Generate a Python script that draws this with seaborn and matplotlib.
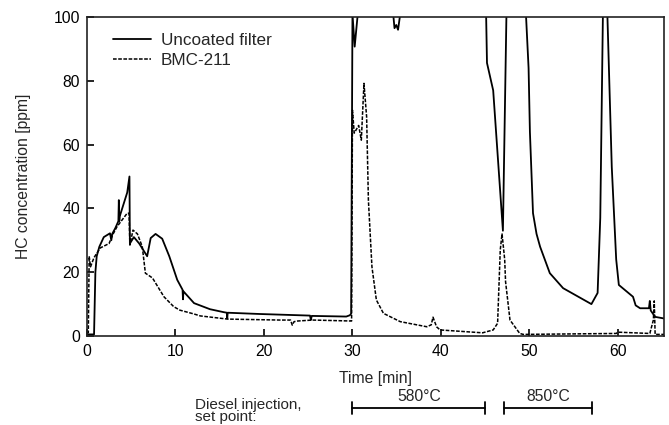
import matplotlib
matplotlib.use("Agg")
import matplotlib.pyplot as plt
import seaborn as sns
import pandas as pd

# ---- data ----
uncoated_t = [0, 0.8, 0.95, 1.1, 1.4, 1.9, 2.6, 2.75, 2.85, 3.2, 3.55, 3.6, 3.65, 3.7,
              4.55, 4.8, 4.85, 5.3, 5.9, 6.8, 7.2, 7.75, 8.5, 9.3, 10.2, 10.8, 10.85,
              10.9, 12.1, 13.9, 15.4, 15.8, 15.85, 15.9, 19.5, 25.2, 25.3, 25.4, 29.3,
              29.7, 29.85, 30.0, 30.25, 30.6, 34.6, 34.75, 34.95, 35.15, 35.4, 45.1,
              45.2, 45.9, 46.5, 47.0, 47.4, 49.6, 49.9, 50.05, 50.4, 50.8, 51.2, 52.3,
              53.8, 57.0, 57.7, 58.0, 58.3, 58.8, 59.3, 59.8, 60.1, 61.7, 62.0, 62.5,
              63.5, 63.6, 63.7, 64.2, 65.2]
uncoated_c = [0.5, 0.5, 20, 25, 28, 31, 32.2, 30, 32, 33.8, 36, 42.6, 36, 37.5,
              45, 50, 29, 31, 29, 25, 30.7, 32, 30.5, 25, 17.6, 14.5, 11.5,
              14, 10.3, 8.4, 7.5, 7.3, 5.5, 7.3, 6.9, 6.4, 5.0, 6.3, 6.1,
              6.5, 7, 101, 90.7, 101, 101, 96.5, 97.5, 96, 101, 101,
              85.6, 77, 53, 33, 101, 101, 84, 64, 38.5, 32, 28, 19.7,
              15, 10, 13.5, 37, 101, 101, 53, 24, 16, 12.3, 9.6, 8.7,
              8.7, 11, 8, 6, 5.5]

bmc_t = [0, 0.15, 0.25, 0.4, 0.8, 1.5, 2.5, 2.9, 3.4, 4.55, 4.75, 4.85, 5.2, 5.7,
         6.25, 6.6, 7.4, 8.7, 9.8, 10.5, 12.1, 12.8, 15.9, 21.8, 23.0, 23.2, 23.4,
         23.8, 25.5, 29.9, 30.0, 30.2, 30.7, 31.0, 31.3, 31.6, 31.8, 32.2, 32.7,
         33.5, 35.4, 38.4, 38.9, 39.1, 39.5, 39.9, 44.7, 45.9, 46.4, 46.7, 46.9,
         47.2, 47.3, 47.8, 48.9, 49.3, 59.8, 60.0, 63.6, 64.0, 64.1, 64.2, 65.2]
bmc_c = [1, 1, 25, 21.7, 24.6, 27.6, 29, 31.7, 34.3, 38.5, 38.5, 28.5, 33.2, 32,
         28, 19.7, 18.2, 12.3, 9.2, 8.1, 6.9, 6.3, 5.3, 5.0, 5.0, 3.4, 4.5,
         4.7, 5.0, 4.7, 70.8, 63.6, 66, 61.4, 79.2, 68.7, 42.6, 21.7, 11.3,
         7.1, 4.5, 2.9, 3.5, 5.9, 2.9, 1.9, 1.0, 1.9, 4, 27, 32,
         24, 17, 5, 0.8, 0.5, 0.8, 1.2, 0.8, 5, 11, 0.5, 0.5]

x_ticks = [0, 10, 20, 30, 40, 50, 60]
y_ticks = [0, 20, 40, 60, 80, 100]
injection_start = [30.0, 47.1]
injection_end = [45.0, 57.1]
injection_labels = ["580°C", "850°C"]

sns.set_style("ticks")
plt.rcParams["font.family"] = ["Liberation Sans", "DejaVu Sans"]
FS = 11.3
plt.rcParams["font.size"] = FS

fig = plt.figure(figsize=(6.69, 4.25), dpi=100)
ax = fig.add_axes([0.130, 0.2094, 0.8625, 0.7506])

df_u = pd.DataFrame({"t": uncoated_t, "c": uncoated_c})
df_b = pd.DataFrame({"t": bmc_t, "c": bmc_c})

sns.lineplot(data=df_u, x="t", y="c", ax=ax, sort=False, estimator=None,
             color="black", lw=1.3, label="Uncoated filter")
sns.lineplot(data=df_b, x="t", y="c", ax=ax, sort=False, estimator=None,
             color="black", lw=1.1, label="BMC-211", dashes=False)
ax.lines[1].set_dashes((2.4, 1.0))

ax.set_xlim(0, 65.2)
ax.set_ylim(0, 100)
ax.set_xticks(x_ticks)
ax.set_yticks(y_ticks)
ax.tick_params(direction="in", length=5, width=1.2, colors="black", labelsize=FS)
ax.tick_params(axis="x", pad=6)
ax.tick_params(axis="y", pad=5)
for s in ax.spines.values():
    s.set_linewidth(1.2)
    s.set_color("#222222")

ax.set_xlabel("Time [min]", fontsize=FS, va="center")
ax.xaxis.set_label_coords(0.5, -0.132)
ax.set_ylabel("HC concentration [ppm]", fontsize=FS, va="center")
ax.yaxis.set_label_coords(-0.11, 0.5)

leg = ax.legend(loc="upper left", bbox_to_anchor=(0.045, 0.95), frameon=False,
                borderpad=0, borderaxespad=0, handlelength=2.2, handletextpad=0.6,
                labelspacing=0.32, fontsize=12.3)
leg.get_lines()[1].set_dashes((2.4, 1.0))

# injection periods below the axis
tr = ax.get_xaxis_transform()
bar_y = -0.226
for s, e, lab in zip(injection_start, injection_end, injection_labels):
    ax.plot([s, e], [bar_y, bar_y], transform=tr, clip_on=False, color="black", lw=1.3)
    for xx in (s, e):
        ax.plot([xx, xx], [bar_y - 0.019, bar_y + 0.019], transform=tr, clip_on=False,
                color="black", lw=1.3)
    ax.text((s + e) / 2, bar_y + 0.036, lab, transform=tr, ha="center", va="center",
            fontsize=FS)

fig.text(195 / 669, 1 - 411 / 425, "Diesel injection,\nset point:", ha="left",
         va="center", fontsize=11, linespacing=0.9)

fig.savefig("out.png", dpi=100)
